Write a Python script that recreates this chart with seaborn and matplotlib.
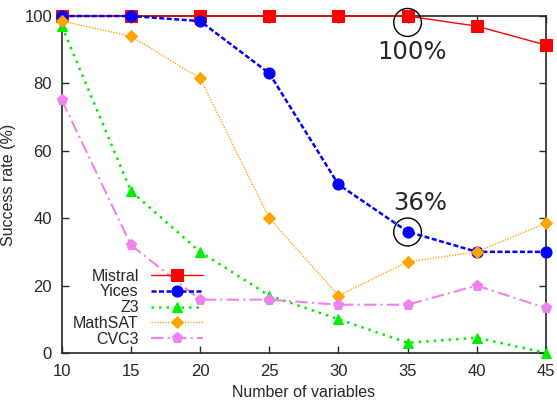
import matplotlib
matplotlib.use("Agg")
import matplotlib.pyplot as plt
import seaborn as sns
import pandas as pd
from matplotlib.patches import Ellipse

variables = [10, 15, 20, 25, 30, 35, 40, 45]
mistral = [100, 100, 100, 100, 100, 100, 97, 91.4]
yices = [100, 100, 98.5, 83, 50, 36, 30, 30]
z3 = [97, 48, 30, 17, 10, 3, 4.5, 0]
mathsat = [98.5, 94, 81.5, 40, 17, 27, 30, 38.5]
cvc3 = [75, 32, 15.8, 15.8, 14.3, 14.3, 20, 13.3]

solvers = ["Mistral", "Yices", "Z3", "MathSAT", "CVC3"]
series = [mistral, yices, z3, mathsat, cvc3]

sns.set_style("ticks")
plt.rcParams['font.family'] = ['Liberation Sans', 'DejaVu Sans']

fig = plt.figure(figsize=(5.57, 4.01), dpi=100)
ax = fig.add_axes([0.111, 0.12, 0.869, 0.84])

styles = {
    "Mistral": dict(color="#ff0000", marker="s", linestyle="-", lw=1.0, ms=8),
    "Yices": dict(color="#0000ff", marker="o", linestyle=(0, (2, 1)), lw=1.8, ms=8),
    "Z3": dict(color="#00ee00", marker="^", linestyle=(0, (1, 2)), lw=1.8, ms=7),
    "MathSAT": dict(color="#ffa500", marker="D", linestyle=(0, (1, 1)), lw=1.0, ms=6),
    "CVC3": dict(color="#ee82ee", marker="p", linestyle=(0, (6, 2, 1, 2)), lw=1.5, ms=8),
}

for name, vals in zip(solvers, series):
    df = pd.DataFrame({"x": variables, "y": vals})
    st = styles[name]
    sns.lineplot(data=df, x="x", y="y", ax=ax, color=st["color"], marker=st["marker"],
                 linestyle=st["linestyle"], linewidth=st["lw"], markersize=st["ms"],
                 markeredgecolor=st["color"], label=name, zorder=3, clip_on=False)

ax.set_xlim(10, 45)
ax.set_ylim(0, 100)
ax.set_xticks(variables)
ax.set_yticks([0, 20, 40, 60, 80, 100])
ax.tick_params(direction="in", top=True, right=True, labelsize=12, length=5, width=1)
ax.tick_params(axis="x", pad=8)
ax.tick_params(axis="y", pad=7)
for s in ax.spines.values():
    s.set_visible(True)
    s.set_linewidth(1.2)
ax.set_xlabel("Number of variables", fontsize=11.5, labelpad=4)
ax.set_ylabel("Success rate (%)", fontsize=11.5, labelpad=6)

# annotations
for (xv, yv) in [(35, 98.1), (35, 35.9)]:
    ax.add_patch(Ellipse((xv, yv), 2.0, 8.3, fill=False, ec="black", lw=1.0, zorder=4, clip_on=False))
ax.text(35.3, 89.3, "100%", ha="center", va="center", fontsize=17.5, family="DejaVu Sans")
ax.text(35.9, 44.5, "36%", ha="center", va="center", fontsize=17.5, family="DejaVu Sans")

leg = ax.legend(loc="lower left", bbox_to_anchor=(0.0, -0.015), markerfirst=False, frameon=False,
                handlelength=3.2, labelspacing=0.05, fontsize=11.5, handletextpad=0.8,
                borderaxespad=0.3)

fig.savefig("out.png", dpi=100)
